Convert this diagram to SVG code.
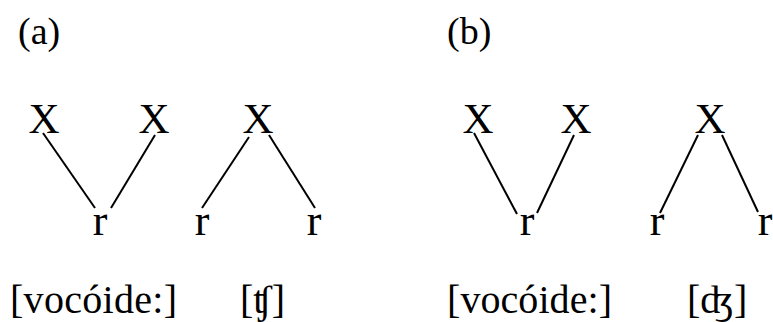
<svg xmlns="http://www.w3.org/2000/svg" width="773" height="322" viewBox="0 0 773 322">
<style>
text{font-family:"Liberation Serif","DejaVu Serif",serif;font-size:40px;fill:#000}
.n{text-anchor:middle}
.x{font-size:43px}
.r{font-size:44px}
.p{font-size:38px}
.c line{stroke:#000;stroke-width:2;stroke-linecap:butt}
</style>
<rect width="773" height="322" fill="#fff"/>
<g id="label-a"><text class="p" x="18" y="44">(a)</text></g>
<g id="label-b"><text class="p" x="447" y="44">(b)</text></g>
<g id="a-x1"><text class="n x" x="44" y="133">X</text></g>
<g id="a-x2"><text class="n x" x="154" y="133">X</text></g>
<g id="a-r1"><text class="n r" x="100" y="235">r</text></g>
<g id="a-x3"><text class="n x" x="258" y="133">X</text></g>
<g id="a-r2"><text class="n r" x="202" y="235">r</text></g>
<g id="a-r3"><text class="n r" x="314" y="235">r</text></g>
<g id="b-x1"><text class="n x" x="478" y="133">X</text></g>
<g id="b-x2"><text class="n x" x="576" y="133">X</text></g>
<g id="b-r1"><text class="n r" x="527" y="235">r</text></g>
<g id="b-x3"><text class="n x" x="710" y="133">X</text></g>
<g id="b-r2"><text class="n r" x="657" y="235">r</text></g>
<g id="b-r3"><text class="n r" x="765" y="235">r</text></g>
<g id="a-cap1"><text x="10" y="313" textLength="167">[vocóide:]</text></g>
<g id="a-cap2"><text x="240" y="313">[ʧ]</text></g>
<g id="b-cap1"><text x="447" y="313" textLength="165">[vocóide:]</text></g>
<g id="b-cap2"><text x="687" y="313">[ʤ]</text></g>
<g class="c" id="connectors">
<line x1="43" y1="133" x2="95" y2="208"/>
<line x1="155" y1="135" x2="111" y2="208"/>
<line x1="249" y1="137" x2="202" y2="208"/>
<line x1="269" y1="135" x2="315" y2="208"/>
<line x1="474" y1="133" x2="517" y2="214"/>
<line x1="574" y1="135" x2="537" y2="213"/>
<line x1="698" y1="135" x2="660" y2="213"/>
<line x1="722" y1="135" x2="758" y2="212"/>
</g>
</svg>
